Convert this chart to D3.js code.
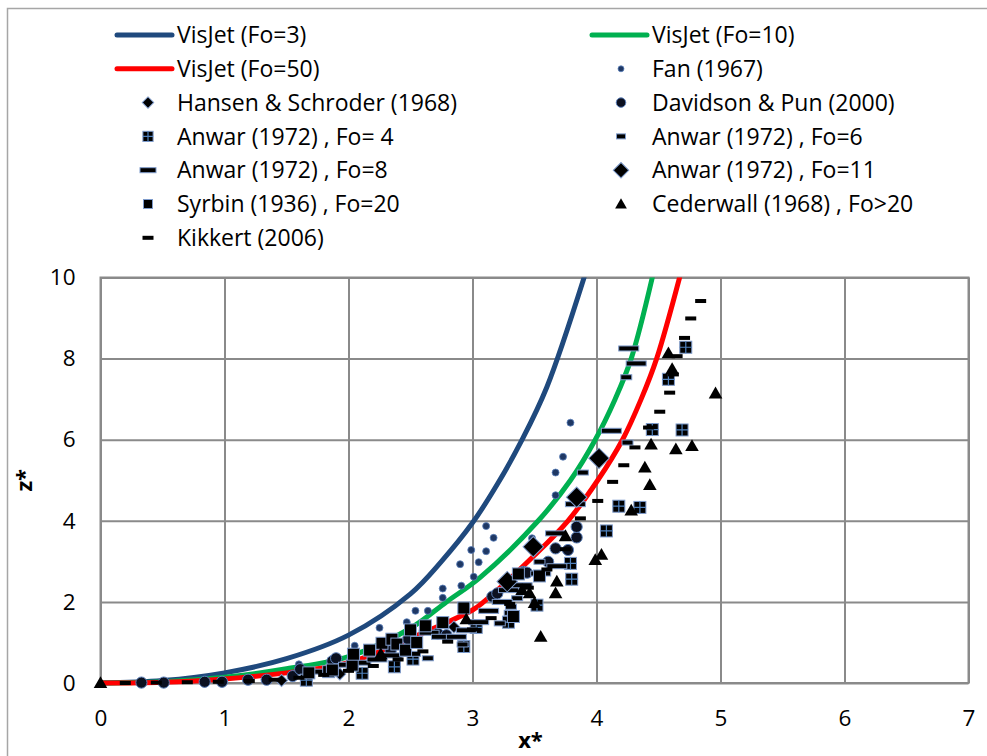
<!DOCTYPE html>
<html><head><meta charset="utf-8">
<script src="https://cdn.jsdelivr.net/npm/d3@7"></script>
<style>
html,body{margin:0;padding:0;background:#fff;overflow:hidden}
svg{display:block}
text{font-family:"Open Sans",Lato,sans-serif;fill:#000}
</style></head>
<body>
<svg id="chart" width="987" height="756"></svg>
<script>
// ---------- data ----------
const xTicks = [0,1,2,3,4,5,6,7];
const yTicks = [0,2,4,6,8,10];
const xTitle = "x*";
const yTitle = "z*";

// VisJet model curves
const visjet3X  = [0,0.5,1,1.5,2,2.5,2.75,3.0,3.2,3.4,3.6,3.9];
const visjet3Z  = [0,0.06,0.25,0.6,1.18,2.2,3.0,3.95,4.9,6.0,7.3,10];
const visjet10X = [0,0.5,1,1.5,2,2.5,2.79,3.06,3.53,3.79,3.99,4.15,4.28,4.45];
const visjet10Z = [0,0.03,0.14,0.35,0.65,1.35,2.0,2.6,4.0,5.0,6.0,7.0,8.0,10];
const visjet50X = [0,0.5,1,1.5,2,2.5,3.0,3.09,3.5,3.77,4.01,4.21,4.36,4.485,4.67];
const visjet50Z = [0,0.02,0.1,0.25,0.5,1.1,1.8,2.0,3.15,4.0,5.0,6.0,7.0,8.0,10];

// experimental data
const fanX = [1.60,2.05,2.25,2.47,2.54,2.64,2.76,2.76,2.90,2.91,3.01,3.05,2.99,3.11,3.11,3.17,3.48,3.67,3.67,3.73,3.79];
const fanZ = [0.46,0.92,1.36,1.50,1.78,1.78,2.10,2.33,2.93,2.40,2.62,2.98,3.28,3.25,3.87,3.58,3.57,4.63,5.19,5.58,6.42];
const hansenX = [1.46,1.93,2.85];
const hansenZ = [0.06,0.22,1.38];
const davidsonX = [0.33,0.51,0.84,0.98,1.19,1.34,1.55,1.61,1.87,1.90,2.34,2.48,2.72,2.79,3.16,3.20,3.41,3.44,3.61,3.67,3.77,3.84,3.84];
const davidsonZ = [0.01,0.01,0.03,0.03,0.08,0.08,0.17,0.34,0.54,0.61,0.79,1.08,1.22,1.18,2.13,2.21,2.74,2.72,2.99,3.32,3.28,3.59,3.85];
const anwar4X = [1.66,2.11,2.37,2.52,2.93,3.03,3.29,3.52,3.79,3.80,4.08,4.18,4.35,4.45,4.69,4.58,4.72];
const anwar4Z = [0.07,0.24,0.40,0.59,0.90,1.37,1.50,1.92,2.95,2.56,3.75,4.36,4.33,6.25,6.24,7.49,8.28];
const anwar6X = [2.64,2.92,3.22,3.30,3.31,3.36,3.54,3.89,4.25,4.24];
const anwar6Z = [0.61,0.95,1.47,1.73,1.88,2.09,2.99,5.19,5.93,7.54];
const anwar8X = [1.75,2.0,2.1,2.23,2.35,2.5,2.65,2.75,2.87,2.95,3.05,3.13,3.24,3.29,3.40,3.55,3.68,3.67,3.83,4.12,4.32,4.26];
const anwar8Z = [0.28,0.45,0.5,0.58,0.68,0.72,1.24,1.14,1.14,1.3,1.5,1.78,2.0,2.29,2.41,2.7,2.88,3.69,4.41,6.22,7.88,8.25];
const anwar11X = [3.28,3.49,3.84,4.02];
const anwar11Z = [2.50,3.36,4.58,5.54];
const syrbinX = [1.68,1.84,1.87,2.03,2.04,2.17,2.27,2.35,2.39,2.46,2.50,2.55,2.62,2.76,2.93,3.33,3.37,3.54];
const syrbinZ = [0.25,0.28,0.32,0.44,0.71,0.81,0.98,1.08,0.96,0.81,1.31,1.00,1.41,1.49,1.85,1.64,2.69,2.64];
const cederX = [0,2.26,2.95,3.40,3.46,3.50,3.55,3.68,3.67,3.75,3.99,4.04,4.28,4.43,4.39,4.44,4.64,4.77,4.96,4.61,4.58];
const cederZ = [0,0.71,1.57,2.29,2.21,1.97,1.14,2.50,2.21,3.62,3.03,3.16,4.25,4.88,5.31,5.88,5.76,5.84,7.14,7.74,8.13];
const kikkertX = [0.2,0.45,0.7,0.95,1.2,1.4,1.6,1.8,2.0,2.2,2.4,2.6,2.8,3.0,3.15,3.3,3.45,3.6,3.75,3.87,4.01,4.13,4.22,4.31,4.42,4.51,4.59,4.62,4.65,4.71,4.76,4.84];
const kikkertZ = [0.0,0.01,0.02,0.03,0.05,0.08,0.13,0.2,0.3,0.42,0.58,0.78,1.02,1.32,1.6,1.95,2.35,2.8,3.3,4.06,4.49,4.96,5.37,5.81,6.30,6.69,7.16,7.61,8.06,8.51,8.99,9.42];

// ---------- chart ----------
const svg = d3.select("#chart");
const x = d3.scaleLinear().domain([0,7]).range([100.5,968.5]);
const y = d3.scaleLinear().domain([0,10]).range([683,277.5]);
const plotW = x.range()[1]-x.range()[0];
const plotH = y.range()[0]-y.range()[1];
const GRID = "#8a8a8a";
const TICKFONT = 22.5, LEGFONT = 23;

// outer chart border
svg.append("rect").attr("x",7.5).attr("y",8.5).attr("width",1100).attr("height",900)
  .attr("fill","none").attr("stroke","#a6a6a6").attr("stroke-width",1.5);

// axes with gridlines
const gx = svg.append("g").attr("transform",`translate(0,${y(0)})`)
  .call(d3.axisBottom(x).tickValues(xTicks).tickSize(-plotH).tickPadding(27).tickFormat(d3.format("d")));
const gy = svg.append("g").attr("transform",`translate(${x(0)},0)`)
  .call(d3.axisLeft(y).tickValues(yTicks).tickSize(-plotW).tickPadding(25).tickFormat(d3.format("d")));
[gx,gy].forEach(g=>{
  g.select(".domain").remove();
  g.selectAll(".tick line").attr("stroke",GRID).attr("stroke-width",2);
  g.selectAll(".tick text").attr("font-size",TICKFONT).attr("font-family","Open Sans").attr("fill","#000");
});
svg.append("rect").attr("x",x(0)).attr("y",y(10)).attr("width",plotW).attr("height",plotH)
  .attr("fill","none").attr("stroke",GRID).attr("stroke-width",2);

// axis titles
svg.append("text").attr("x",(x(0)+x(7))/2-4).attr("y",748).attr("text-anchor","middle")
  .attr("font-weight","bold").attr("font-size",22).text(xTitle);
svg.append("text").attr("transform",`translate(32,${(y(0)+y(10))/2}) rotate(-90)`)
  .attr("text-anchor","middle").attr("font-weight","bold").attr("font-size",22).text(yTitle);

// model curves
const curves = [
  {name:"VisJet (Fo=3)",  xs:visjet3X,  zs:visjet3Z,  color:"#1f497d"},
  {name:"VisJet (Fo=10)", xs:visjet10X, zs:visjet10Z, color:"#00b050"},
  {name:"VisJet (Fo=50)", xs:visjet50X, zs:visjet50Z, color:"#ff0000"}
];
const line = d3.line().x(d=>x(d[0])).y(d=>y(d[1])).curve(d3.curveCatmullRom.alpha(0.5));
svg.append("clipPath").attr("id","pc").append("rect")
  .attr("x",x(0)-6).attr("y",y(10)).attr("width",plotW+12).attr("height",plotH+12);
const curveG = svg.append("g").attr("clip-path","url(#pc)");
curves.forEach(c=>{
  curveG.append("path").datum(d3.zip(c.xs,c.zs)).attr("d",line)
    .attr("fill","none").attr("stroke",c.color).attr("stroke-width",5)
    .attr("stroke-linecap","round").attr("stroke-linejoin","round");
});

// marker drawing
const OUT = "#7f9ccc";
function drawMarker(g, kind, big){
  const s = big ? 1 : 0.85;
  if(kind==="fan"){
    g.append("circle").attr("r",3.5*s).attr("fill","#1f3864").attr("stroke","#5b80bb").attr("stroke-width",0.8);
  } else if(kind==="davidson"){
    g.append("circle").attr("r",5.6*s).attr("fill","#0b1020").attr("stroke","#5b80bb").attr("stroke-width",1);
  } else if(kind==="hansen"){
    g.append("path").attr("d",d3.symbol().type(d3.symbolSquare).size(big?72:66)()).attr("transform","rotate(45)")
      .attr("fill","#000").attr("stroke",OUT).attr("stroke-width",1);
  } else if(kind==="anwar4"){
    const h=6*s;
    g.append("rect").attr("x",-h).attr("y",-h).attr("width",2*h).attr("height",2*h)
      .attr("fill","#000").attr("stroke",OUT).attr("stroke-width",1);
    g.append("path").attr("d",`M${-h},0H${h}M0,${-h}V${h}`).attr("stroke","#4f81bd").attr("stroke-width",1.2);
  } else if(kind==="anwar6"){
    const w = big?11:9;
    g.append("rect").attr("x",-w/2).attr("y",-2.5).attr("width",w).attr("height",5)
      .attr("fill","#000").attr("stroke",OUT).attr("stroke-width",1);
  } else if(kind==="anwar8"){
    const w = big?20:16;
    g.append("rect").attr("x",-w/2).attr("y",-2.5).attr("width",w).attr("height",5)
      .attr("fill","#000").attr("stroke",OUT).attr("stroke-width",1);
  } else if(kind==="anwar11"){
    g.append("path").attr("d",d3.symbol().type(d3.symbolSquare).size(big?210:120)()).attr("transform","rotate(45)")
      .attr("fill","#000").attr("stroke",OUT).attr("stroke-width",1);
  } else if(kind==="syrbin"){
    const h=big?6:4.5;
    g.append("rect").attr("x",-h).attr("y",-h).attr("width",2*h).attr("height",2*h)
      .attr("fill","#000").attr("stroke",OUT).attr("stroke-width",1);
  } else if(kind==="ceder"){
    g.append("path").attr("d",d3.symbol().type(d3.symbolTriangle).size(big?80:60)()).attr("transform","translate(0,1)")
      .attr("fill","#000");
  } else if(kind==="kikkert"){
    g.append("rect").attr("x",-5.5).attr("y",-2).attr("width",11).attr("height",4).attr("fill","#000");
  }
}

const scatter = [
  {name:"Fan (1967)", xs:fanX, zs:fanZ, kind:"fan"},
  {name:"Hansen & Schroder (1968)", xs:hansenX, zs:hansenZ, kind:"hansen"},
  {name:"Davidson & Pun (2000)", xs:davidsonX, zs:davidsonZ, kind:"davidson"},
  {name:"Anwar (1972) , Fo= 4", xs:anwar4X, zs:anwar4Z, kind:"anwar4"},
  {name:"Anwar (1972) , Fo=6", xs:anwar6X, zs:anwar6Z, kind:"anwar6"},
  {name:"Anwar (1972) , Fo=8", xs:anwar8X, zs:anwar8Z, kind:"anwar8"},
  {name:"Anwar (1972) , Fo=11", xs:anwar11X, zs:anwar11Z, kind:"anwar11"},
  {name:"Syrbin (1936) , Fo=20", xs:syrbinX, zs:syrbinZ, kind:"syrbin"},
  {name:"Cederwall (1968) , Fo>20", xs:cederX, zs:cederZ, kind:"ceder"},
  {name:"Kikkert (2006)", xs:kikkertX, zs:kikkertZ, kind:"kikkert"}
];
scatter.forEach(s=>{
  const g = svg.append("g");
  d3.zip(s.xs,s.zs).forEach(p=>{
    drawMarker(g.append("g").attr("transform",`translate(${x(p[0])},${y(p[1])})`), s.kind, true);
  });
});

// legend (row-major, 2 columns)
const legendItems = [
  {name:curves[0].name, line:curves[0].color},
  {name:curves[1].name, line:curves[1].color},
  {name:curves[2].name, line:curves[2].color},
  ...scatter.map(s=>({name:s.name, kind:s.kind}))
];
const colX = [148, 621], colLine=[[117,172],[592,647]], colText=[177,652];
const rowY0 = 35, rowDy = 33.8;
legendItems.forEach((it,i)=>{
  const c = i%2, r = Math.floor(i/2);
  const yy = rowY0 + r*rowDy;
  const g = svg.append("g");
  if(it.line){
    g.append("line").attr("x1",colLine[c][0]).attr("x2",colLine[c][1]).attr("y1",yy).attr("y2",yy)
      .attr("stroke",it.line).attr("stroke-width",5).attr("stroke-linecap","round");
  } else {
    drawMarker(g.append("g").attr("transform",`translate(${colX[c]},${yy})`), it.kind, false);
  }
  g.append("text").attr("x",colText[c]).attr("y",yy).attr("dy","0.36em")
    .attr("font-size",LEGFONT).text(it.name);
});
</script>
</body></html>
